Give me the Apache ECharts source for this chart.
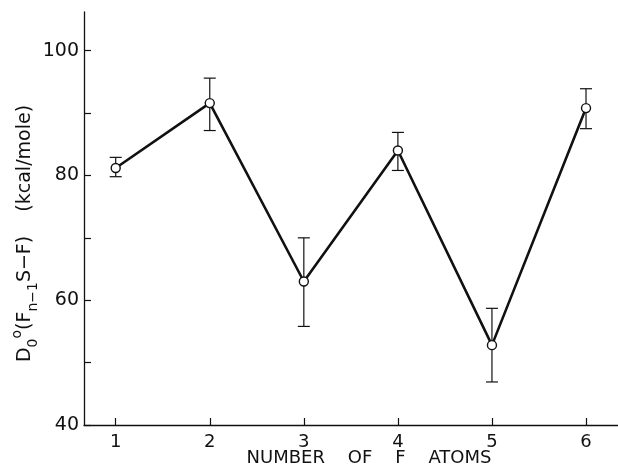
<!DOCTYPE html>
<html>
<head>
<meta charset="utf-8">
<script src="https://cdn.jsdelivr.net/npm/echarts@6/dist/echarts.min.js"></script>
<style>
html,body{margin:0;padding:0;background:#fff;}
#chart{width:618px;height:471px;}
</style>
</head>
<body>
<div id="chart"></div>
<script>
var atoms = [1, 2, 3, 4, 5, 6];
var energy = [81.2, 91.6, 63.0, 84.0, 52.8, 90.8];
var errLow = [79.8, 87.2, 55.8, 80.8, 46.9, 87.5];
var errHigh = [82.9, 95.6, 70.0, 86.9, 58.7, 93.9];
var xTickValues = [1, 2, 3, 4, 5, 6];
var yTickValues = [40, 50, 60, 70, 80, 90, 100];
var yLabelValues = [40, 60, 80, 100];

var font = 'DejaVu Sans';
var chart = echarts.init(document.getElementById('chart'));

var lineData = atoms.map(function (a, i) { return [a, energy[i]]; });
var errData = atoms.map(function (a, i) { return [a, errLow[i], errHigh[i]]; });

chart.setOption({
  animation: false,
  backgroundColor: '#fff',
  grid: { left: 84, right: 0, top: 12, bottom: 46, containLabel: false, outerBoundsMode: 'none' },
  xAxis: {
    type: 'value',
    min: 0.663,
    max: 6.34,
    name: 'NUMBER    OF    F    ATOMS',
    nameLocation: 'middle',
    nameGap: 24,
    nameMoveOverlap: false,
    nameTextStyle: { fontFamily: font, fontSize: 18, color: '#111', padding: [0, 0, 0, 36] },
    axisLine: { lineStyle: { color: '#111', width: 1.3 } },
    axisTick: { inside: true, length: 7, customValues: xTickValues, lineStyle: { color: '#111', width: 1.2 } },
    axisLabel: { customValues: xTickValues, fontFamily: font, fontSize: 18, color: '#111', margin: 8 },
    splitLine: { show: false }
  },
  yAxis: {
    type: 'value',
    min: 40,
    max: 106.2,
    name: '{n|D}{sub|0}{sup|o}{n|(F}{sub|n\u22121}{n|S\u2212F)    (kcal/mole)}',
    nameLocation: 'middle',
    nameGap: 44,
    nameMoveOverlap: false,
    nameTextStyle: {
      fontFamily: font, fontSize: 19, color: '#111', padding: [0, 30, 0, 0],
      rich: {
        n: { fontFamily: font, fontSize: 19, color: '#111', lineHeight: 30, verticalAlign: 'middle' },
        sub: { fontFamily: font, fontSize: 14, color: '#111', lineHeight: 14, verticalAlign: 'bottom' },
        sup: { fontFamily: font, fontSize: 14, color: '#111', lineHeight: 14, verticalAlign: 'top' }
      }
    },
    axisLine: { show: true, lineStyle: { color: '#111', width: 1.3 } },
    axisTick: { show: true, inside: true, length: 7, customValues: yTickValues, lineStyle: { color: '#111', width: 1.2 } },
    axisLabel: { customValues: yLabelValues, fontFamily: font, fontSize: 19, color: '#111', margin: 5 },
    splitLine: { show: false }
  },
  series: [
    {
      type: 'custom',
      data: errData,
      z: 1,
      renderItem: function (params, api) {
        var x = api.value(0);
        var lo = api.coord([x, api.value(1)]);
        var hi = api.coord([x, api.value(2)]);
        var hw = 6;
        var st = { stroke: '#111', lineWidth: 1.2, fill: null };
        return {
          type: 'group',
          children: [
            { type: 'line', shape: { x1: lo[0], y1: lo[1], x2: hi[0], y2: hi[1] }, style: st },
            { type: 'line', shape: { x1: lo[0] - hw, y1: lo[1], x2: lo[0] + hw, y2: lo[1] }, style: st },
            { type: 'line', shape: { x1: hi[0] - hw, y1: hi[1], x2: hi[0] + hw, y2: hi[1] }, style: st }
          ]
        };
      }
    },
    {
      type: 'line',
      data: lineData,
      z: 2,
      symbol: 'circle',
      symbolSize: 9,
      showAllSymbol: true,
      lineStyle: { color: '#111', width: 2.6 },
      itemStyle: { color: '#fff', borderColor: '#111', borderWidth: 1.4 }
    }
  ]
});
</script>
</body>
</html>
